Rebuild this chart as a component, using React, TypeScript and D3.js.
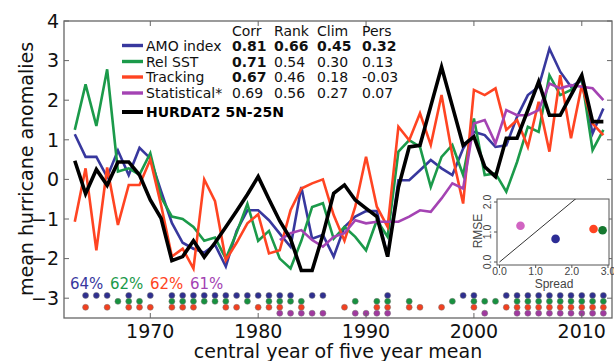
import React from 'react';
import * as d3 from 'd3';

// five year running means, 1963-2012
const years = d3.range(1963, 2013);
const amoIndex = [1.14, 0.57, 0.57, 0.06, 0.73, 0.11, 0.8, 0.53, -0.3, -1.1, -1.6, -1.75, -1.85, -1.65, -2.2, -1.3, -0.78, -0.78, -1.03, -1.37, -1.7, -0.19, -1.5, -1.4, -1.95, -1.2, -0.94, -0.8, -0.8, -1.95, -0.02, -0.02, 0.23, 0.49, 0.28, 0.11, 0.78, 1.2, 1.12, 0.82, 0.86, 1.58, 2.13, 2.34, 3.3, 2.72, 2.34, 2.5, 1.16, 1.79];
const relSst = [1.25, 2.4, 1.35, 2.78, 0.2, 0.28, 0.12, 0.66, -0.45, -0.94, -1.0, -1.2, -1.55, -1.47, -2.0, -1.35, -0.62, -1.55, -1.3, -2.0, -2.25, -1.55, -0.7, -0.6, -1.5, -1.2, -1.45, -1.79, -1.03, -1.45, 0.7, 0.99, 0.82, -0.19, 0.57, 0.87, 0.11, 1.54, 0.11, 0.15, -0.31, 0.44, 1.33, 1.2, 2.63, 2.13, 2.26, 2.55, 0.74, 1.25];
const tracking = [-1.07, 0.28, -1.79, 0.3, -1.15, -0.14, -0.14, 0.5, -0.65, -1.95, -1.75, -2.25, 0.0, -0.55, -2.04, -1.6, -1.11, -0.88, -1.87, -1.79, -0.78, -0.23, -0.1, 0.0, -0.9, -1.55, -0.69, 0.57, -0.69, -1.2, 1.33, 0.99, 1.67, 0.87, 2.13, 0.61, -0.61, 2.26, 2.13, 2.3, 1.25, 1.5, 0.82, 1.96, 0.7, 2.63, 1.04, 2.38, 1.41, 1.12];
// statistical starts in 1982
const statYears = d3.range(1982, 2013);
const statistical = [-1.53, -1.36, -1.28, -1.53, -1.7, -1.45, -1.36, -1.03, -1.11, -1.07, -1.07, -1.07, -0.94, -0.78, -0.82, -0.48, -0.1, -0.23, 1.41, 1.5, 0.91, 1.75, 1.62, 1.62, 1.75, 2.42, 2.3, 2.38, 2.34, 2.3, 2.0];
const hurdat = [0.47, -0.36, 0.25, -0.15, 0.44, 0.44, 0.11, -0.52, -0.98, -2.05, -1.95, -1.55, -1.96, -1.6, -1.2, -0.8, -0.38, 0.07, -0.5, -1.05, -1.5, -2.3, -2.3, -1.4, -0.35, -0.14, -0.52, -0.73, -0.94, -1.95, -0.2, 0.82, 0.86, 1.85, 2.84, 1.85, 0.86, 1.08, 0.32, 0.07, 1.04, 1.04, 1.75, 2.47, 1.62, 1.62, 2.13, 2.63, 1.46, 1.46];

// years where each predictor is "skilful" (dots along the bottom)
const amoHits = [1964, 1965, 1966, 1968, 1970, 1972, 1973, 1974, 1975, 1976, 1977, 1978, 1979, 1980, 1981, 1982, 1983, 1985, 1986, 1992, 1999, 2000, 2003, 2004, 2005, 2006, 2007, 2008, 2009, 2010, 2011, 2012];
const sstHits = [1967, 1968, 1969, 1972, 1973, 1974, 1975, 1976, 1977, 1979, 1981, 1982, 1983, 1984, 1989, 1991, 1992, 1994, 1998, 2000, 2001, 2002, 2004, 2005, 2006, 2007, 2008, 2009, 2010, 2011, 2012];
const trackHits = [1964, 1966, 1968, 1969, 1970, 1972, 1973, 1974, 1977, 1978, 1980, 1981, 1982, 1984, 1988, 1991, 1992, 1994, 1995, 1997, 2000, 2003, 2004, 2005, 2006, 2007, 2008, 2009, 2010, 2011, 2012];
const statHits = [1982, 1983, 1984, 1985, 1986, 1989, 1990, 1991, 1992, 2001, 2004, 2005, 2006, 2007, 2008, 2009, 2010, 2011, 2012];
const hitPct = ['64%', '62%', '62%', '61%'];

const seriesNames = ['AMO index', 'Rel SST', 'Tracking', 'Statistical*'];
const scoreHeads = ['Corr', 'Rank', 'Clim', 'Pers'];
const scores = [
  ['0.81', '0.66', '0.45', '0.32'],
  ['0.71', '0.54', '0.30', '0.13'],
  ['0.67', '0.46', '0.18', '-0.03'],
  ['0.69', '0.56', '0.27', '0.07'],
];
const boldScores = [
  [true, true, true, true],
  [true, false, false, false],
  [true, false, false, false],
  [false, false, false, false],
];

// inset: spread vs rmse
const spread = [1.55, 2.85, 2.6, 0.58];
const rmse = [0.77, 1.06, 1.1, 1.21];

const yTicks = [-3, -2, -1, 0, 1, 2, 3, 4];
const xTicks = [1970, 1980, 1990, 2000, 2010];

const colors = ['#38389e', '#1b9a4a', '#ff4422', '#a443b3'];
const dotColors = ['#2f2f8f', '#17913f', '#f2401f', '#a0399f'];
const insetColors = ['#2c2c95', '#15782f', '#ff4422', '#d164c2'];

const App: React.FC = () => {
  const x = d3.scaleLinear().domain([1962, 2012.8]).range([64, 612]);
  const y = d3.scaleLinear().domain([-3.5, 4]).range([318, 21]);
  const line = d3.line<[number, number]>().x(d => x(d[0])).y(d => y(d[1]));

  const series = [amoIndex, relSst, tracking];
  const dotRows = [amoHits, sstHits, trackHits, statHits];
  const dotLevels = [-2.93, -3.08, -3.23, -3.38];

  const ix = d3.scaleLinear().domain([0, 3]).range([499.5, 608]);
  const iy = d3.scaleLinear().domain([0, 2]).range([262, 202]);

  const font = 'DejaVu Sans, sans-serif';
  const rfont = 'Liberation Sans, Arial, sans-serif';
  const legendRows = [50.5, 66.5, 82, 98];
  const colX = [232, 274, 317, 362];
  const pctX = [70, 110, 150, 190];

  return (
    <svg width={614} height={361} style={{ position: 'absolute', left: 0, top: 0, background: '#fff' }} fontFamily={font}>
      <defs>
        <clipPath id="plot"><rect x={64} y={21} width={548} height={297} /></clipPath>
        <clipPath id="inset"><rect x={497} y={199} width={112} height={66} /></clipPath>
      </defs>

      {/* series lines */}
      <g clipPath="url(#plot)" fill="none" strokeLinejoin="miter">
        {series.map((s, i) => (
          <path key={i} d={line(years.map((yr, j) => [yr, s[j]]))!} stroke={colors[i]} strokeWidth={2.6} />
        ))}
        <path d={line(statYears.map((yr, j) => [yr, statistical[j]]))!} stroke={colors[3]} strokeWidth={2.6} />
        <path d={line(years.map((yr, j) => [yr, hurdat[j]]))!} stroke="#000" strokeWidth={3.6} />
      </g>

      {/* skill dots */}
      {dotRows.map((row, i) => (
        <g key={i}>
          {row.map(yr => (
            <circle key={yr} cx={x(yr)} cy={y(dotLevels[i])} r={3} fill={dotColors[i]} stroke="#777" strokeWidth={0.5} />
          ))}
        </g>
      ))}
      {hitPct.map((p, i) => (
        <text key={i} x={pctX[i]} y={289} fontSize={15} fill={colors[i]}>{p}</text>
      ))}

      {/* frame and ticks */}
      <rect x={64} y={21} width={548} height={297} fill="none" stroke="#666" strokeWidth={1.3} />
      {yTicks.map(t => (
        <g key={t} stroke="#666" strokeWidth={1}>
          <line x1={64} x2={69} y1={y(t)} y2={y(t)} />
          <line x1={607} x2={612} y1={y(t)} y2={y(t)} />
        </g>
      ))}
      {xTicks.map(t => (
        <g key={t} stroke="#666" strokeWidth={1}>
          <line x1={x(t)} x2={x(t)} y1={318} y2={313} />
          <line x1={x(t)} x2={x(t)} y1={21} y2={26} />
        </g>
      ))}
      {yTicks.map(t => (
        <text key={t} x={59} y={y(t)} dy="0.36em" textAnchor="end" fontSize={19} fill="#111">
          {t < 0 ? '\u2212' + Math.abs(t) : t}
        </text>
      ))}
      {xTicks.map(t => (
        <text key={t} x={x(t)} y={338} textAnchor="middle" fontSize={19} fill="#111">{t}</text>
      ))}
      <text transform="translate(33,169) rotate(-90)" textAnchor="middle" fontSize={19} fill="#111">mean hurricane anomalies</text>
      <text x={338} y={358} textAnchor="middle" fontSize={19} fill="#111">central year of five year mean</text>

      {/* legend with scores */}
      {scoreHeads.map((h, i) => (
        <text key={h} x={colX[i]} y={35.5} fontSize={14} fill="#111">{h}</text>
      ))}
      {seriesNames.map((name, i) => (
        <g key={name}>
          <line x1={122} x2={143} y1={legendRows[i] - 5} y2={legendRows[i] - 5} stroke={colors[i]} strokeWidth={3.4} />
          <text x={146} y={legendRows[i]} fontSize={14} fill="#111">{name}</text>
          {scores[i].map((v, j) => (
            <text key={j} x={colX[j]} y={legendRows[i]} fontSize={14} fill="#111" fontWeight={boldScores[i][j] ? 'bold' : 'normal'}>{v}</text>
          ))}
        </g>
      ))}
      <line x1={122} x2={143} y1={112} y2={112} stroke="#000" strokeWidth={4} />
      <text x={146} y={117} fontSize={14} fontWeight="bold" fill="#000">HURDAT2 5N-25N</text>

      {/* inset */}
      <g fontFamily={rfont} fill="#444">
        <rect x={497} y={199} width={112} height={66} fill="#fff" stroke="#555" strokeWidth={1} />
        <line clipPath="url(#inset)" x1={ix(0)} y1={iy(0)} x2={ix(2.2)} y2={iy(2.2)} stroke="#333" strokeWidth={1} />
        {spread.map((s, i) => (
          <circle key={i} cx={ix(s)} cy={iy(rmse[i])} r={4.3} fill={insetColors[i]} />
        ))}
        {[0, 1, 2, 3].map(t => (
          <g key={t}>
            <line x1={ix(t)} x2={ix(t)} y1={265} y2={268} stroke="#555" />
            <text x={ix(t)} y={274.5} textAnchor="middle" fontSize={10.5}>{t.toFixed(1)}</text>
          </g>
        ))}
        {[0, 1, 2].map(t => (
          <g key={t}>
            <line x1={494} x2={497} y1={iy(t)} y2={iy(t)} stroke="#555" />
            <text transform={`translate(491,${iy(t)}) rotate(-90)`} textAnchor="middle" fontSize={10.5}>{t.toFixed(1)}</text>
          </g>
        ))}
        <text transform="translate(482,231) rotate(-90)" textAnchor="middle" fontSize={12}>RMSE</text>
        <text x={554} y={287.5} textAnchor="middle" fontSize={12}>Spread</text>
      </g>
    </svg>
  );
};

export default App;
